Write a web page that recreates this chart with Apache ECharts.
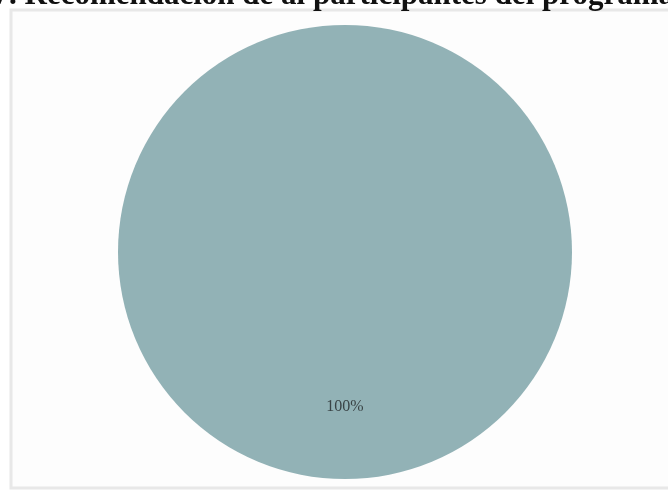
<!DOCTYPE html>
<html>
<head>
<meta charset="utf-8">
<script src="https://cdn.jsdelivr.net/npm/echarts@6/dist/echarts.min.js"></script>
<style>html,body{margin:0;padding:0;background:#fff}#c{width:668px;height:490px}</style>
</head>
<body>
<div id="c"></div>
<script>
const titleText = "17. Recomendación de al participantes del programa";
const categories = ["Sí"];
const values = [100];
const labels = ["100%"];

const chart = echarts.init(document.getElementById('c'), null, {renderer: 'canvas'});
chart.setOption({
  animation: false,
  backgroundColor: '#ffffff',
  graphic: [
    {
      type: 'rect', z: -10,
      shape: {x: 11, y: 10, width: 700, height: 478},
      style: {fill: '#fdfdfd', stroke: '#e8e8e8', lineWidth: 3}
    },
    {
      type: 'text', z: 10,
      style: {
        text: titleText, x: -22, y: -20,
        font: 'bold 31px "Liberation Serif", "Times New Roman", serif',
        fill: '#111'
      }
    }
  ],
  series: [{
    type: 'pie',
    center: [345, 252],
    radius: 227,
    startAngle: 90,
    data: categories.map((c, i) => ({name: c, value: values[i]})),
    itemStyle: {color: '#92b2b6'},
    label: {
      show: true, position: 'inside',
      formatter: (p) => labels[p.dataIndex],
      color: '#3a4446', fontSize: 16,
      fontFamily: '"Liberation Serif", serif',
      offset: [0, 38]
    },
    labelLine: {show: false},
    emphasis: {disabled: true}
  }]
});
</script>
</body>
</html>
